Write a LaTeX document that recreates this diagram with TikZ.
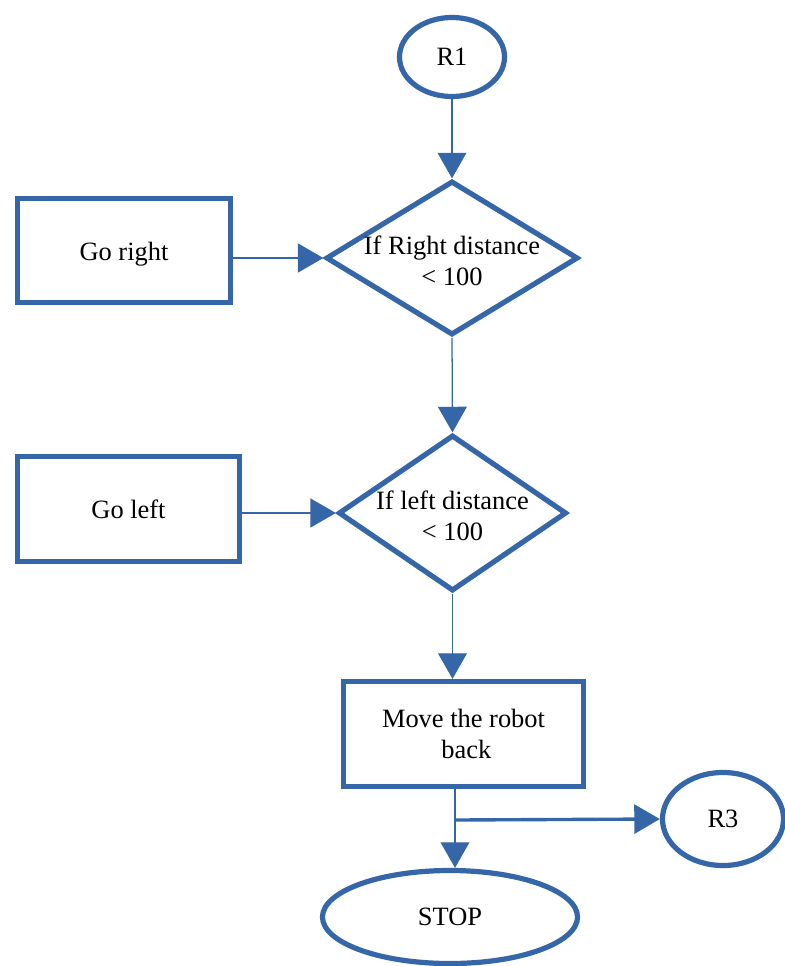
\documentclass[tikz,border=0pt]{standalone}
\usepackage{fontspec}
\setmainfont{Liberation Serif}
\usetikzlibrary{arrows.meta, calc, shapes.geometric}
\definecolor{fcblue}{HTML}{3566A8}

\begin{document}
\begin{tikzpicture}[
    x=0.025cm, y=-0.025cm,
    >={Triangle[length=0.64cm, width=0.72cm]},
    every node/.style={text=black, font=\fontsize{18.8}{22}\selectfont},
  ]

  \useasboundingbox (0,0) rectangle (784,966);

  % Shape styles
  \tikzset{
    termbox/.style={ellipse, draw=fcblue, line width=0.13cm, inner sep=0pt},
    actbox/.style={rectangle, draw=fcblue, line width=0.13cm, inner sep=0pt, align=center},
    testbox/.style={diamond, draw=fcblue, line width=0.13cm, inner sep=0pt},
    thinflow/.style={->, draw=fcblue, line width=0.9pt},
    thickflow/.style={->, draw=fcblue, line width=2pt},
  }

  % Nodes
  \node[termbox, minimum width=2.625cm, minimum height=1.975cm] (r1) at (452,57) {R1};
  \node[testbox, minimum width=6.3cm, minimum height=3.85cm,
        label={[align=center, yshift=-0.075cm]center:If Right distance\\{<} 100}] (d1) at (452,258) {};
  \node[actbox, minimum width=5.325cm, minimum height=2.6cm,
        label={[yshift=-0.1cm]center:Go right}] (gor) at (124,250.5) {};
  \node[testbox, minimum width=5.7cm, minimum height=3.9cm,
        label={[align=center, yshift=-0.075cm]center:If left distance\\{<} 100}] (d2) at (452.5,513) {};
  \node[actbox, minimum width=5.55cm, minimum height=2.625cm] (gol) at (128.5,509) {Go left};
  \node[actbox, minimum width=6.0cm, minimum height=2.625cm] (move) at (463.5,734)
    {Move the robot\\\kern4pt back};
  \node[termbox, minimum width=3.025cm, minimum height=2.325cm] (r3) at (723,819) {R3};
  \node[termbox, minimum width=6.375cm, minimum height=2.325cm] (stop) at (450,917) {STOP};

  \coordinate (split) at (455,820);

  % Connectors
  \draw[thinflow] (r1.south) -- (d1.north);
  \draw[thickflow] (d1.west -| gor.east) -- (d1.west);
  \draw[thinflow] (d1.south) -- (d2.north);
  \draw[thickflow] (d2.west -| gol.east) -- (d2.west);
  \draw[thinflow] (d2.south) -- (move.north -| d2.south);
  \draw[thinflow] (move.south -| split) -- (stop.north -| split);
  \draw[->, draw=fcblue, line width=2.4pt] (split) -- (r3.west);

\end{tikzpicture}
\end{document}
